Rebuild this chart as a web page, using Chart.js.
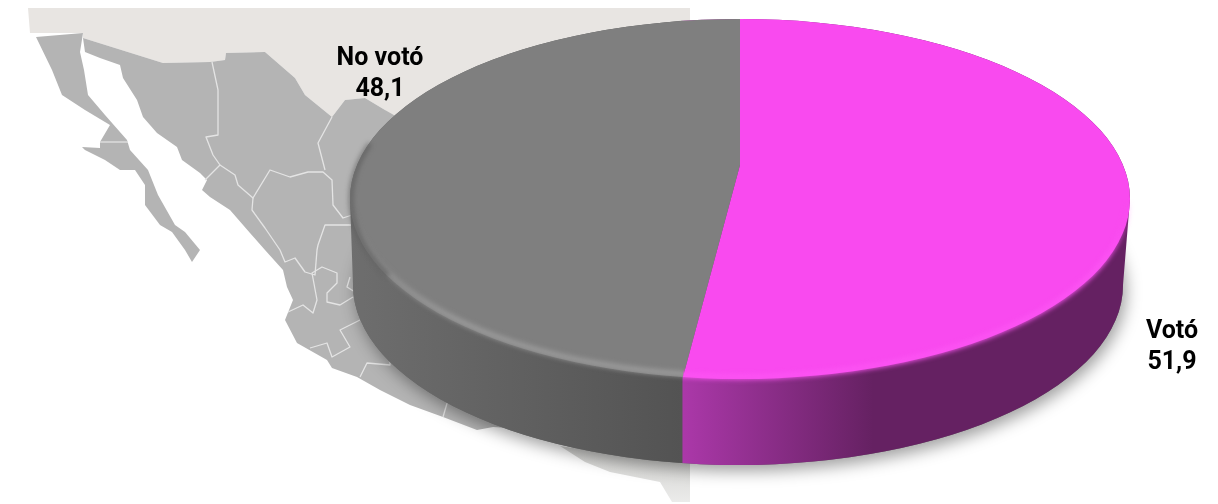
<!DOCTYPE html>
<html lang="es">
<head>
<meta charset="utf-8">
<title>Participación electoral</title>
<script src="https://cdn.jsdelivr.net/npm/chart.js@4"></script>
<style>
    html, body { margin: 0; background: #fff; }
    #wrap { position: relative; width: 1218px; height: 504px; overflow: hidden; }
    #map, #pie { position: absolute; left: 0; top: 0; }
</style>
</head>
<body>
<div id="wrap">
    <!-- backdrop map of Mexico, cut off at x=690 -->
    <svg id="map" width="1218" height="504" viewBox="0 0 1218 504">
        <defs>
            <linearGradient id="paleFade" x1="0" y1="0" x2="0" y2="1">
                <stop offset="0" stop-color="#cfcfcd"/>
                <stop offset="1" stop-color="#ebebea"/>
            </linearGradient>
        </defs>
        <polygon fill="#e8e5e2" points="28,8 690,8 690,130 400,130 385,110 365,98 345,100 332,117 305,95 295,78 265,52 226,53 225,60 210,62 163,63 83,38 83,33 30,33"/>
        <polygon fill="#b4b4b4" points="36,37 83,33 80,52 84,70 88,95 105,115 127,140 130,150 148,170 158,195 175,225 185,232 200,250 192,262 185,250 172,232 160,225 145,205 145,185 135,170 120,170 105,160 85,150 82,147 100,148 100,142 110,125 85,110 62,95 52,70"/>
        <polygon fill="#b4b4b4" points="83,38 163,63 210,62 225,60 226,53 265,52 295,78 305,95 332,117 345,100 365,98 385,110 420,130 690,300 690,440 493,427 477,430 443,417 410,405 380,390 357,377 332,368 327,360 297,343 285,320 293,300 287,287 283,270 265,250 250,233 230,210 210,197 202,190 207,180 200,173 182,160 177,147 157,133 143,117 137,100 123,78 120,65 100,58 85,52"/>
        <polygon fill="url(#paleFade)" points="560,446 600,452 690,452 690,502 672,502 660,482 610,472 585,462"/>
        <g fill="none" stroke="#e4e4e4" stroke-width="1.3" stroke-linejoin="round">
            <polyline points="100,142 128,142"/>
            <polyline points="212,62 218,90 218,135 206,137 213,155 220,165 205,180"/>
            <polyline points="220,165 235,175 238,185 253,198 270,170 290,177 308,172 323,172 332,180 333,205 343,218 352,215"/>
            <polyline points="253,198 252,210 265,228 280,250 285,262 295,258 305,272 315,275 317,250 318,245 325,225 352,225"/>
            <polyline points="332,117 318,143 325,170"/>
            <polyline points="288,312 303,305 313,313 317,300 312,273 322,267 337,273 337,283 327,293 327,302 340,305 353,297"/>
            <polyline points="350,277 347,287 355,292"/>
            <polyline points="310,348 327,343 332,357 350,347 340,330 360,320"/>
            <polyline points="360,377 367,363 390,365 390,357 400,367"/>
            <polyline points="443,417 448,400"/>
        </g>
    </svg>
    <canvas id="pie" width="1218" height="504"></canvas>
</div>

<script>
const categories = ["Votó", "No votó"];
const turnout = [51.9, 48.1];
const faceColors = ["#f94aef", "#7f7f7f"];

// label text sits beside the disc, one line for the name and one for the value
const labelSpots = [[1172, 332], [380, 59]];

// outline of the tilted disc
const disc = { x: 740, y: 199, rx: 390, ry: 180 };
const base = { x: 738, y: 285, rx: 385, ry: 180 };
// far side looks shorter, so the pie's centre sits above the middle of the outline
const apex = { x: 740, y: 165 };
const squash = 0.446;

function discPath(ctx) {
    ctx.beginPath();
    ctx.ellipse(disc.x, disc.y, disc.rx, disc.ry, 0, 0, Math.PI * 2);
}

function wallPath(ctx) {
    ctx.beginPath();
    ctx.ellipse(base.x, base.y, base.rx, base.ry, 0, 0, Math.PI);
    ctx.lineTo(disc.x - disc.rx, disc.y);
    ctx.ellipse(disc.x, disc.y, disc.rx, disc.ry, 0, Math.PI, Math.PI * 2);
    ctx.closePath();
}

// where the slice edge meets the front of the disc
function edgeX(angle) {
    let x = apex.x, y = apex.y;
    const dx = Math.cos(angle), dy = squash * Math.sin(angle);
    while (((x - disc.x) / disc.rx) ** 2 + ((y - disc.y) / disc.ry) ** 2 < 1) {
        x += dx;
        y += dy;
    }
    return x;
}

const discPlugin = {
    id: "disc",
    beforeDatasetsDraw(chart) {
        const ctx = chart.ctx;
        const arcs = chart.getDatasetMeta(0).data;
        const splitX = edgeX(arcs[0].endAngle);
        const left = disc.x - disc.rx, right = disc.x + disc.rx;
        const stop = x => (x - left) / (right - left);

        // drop shadow comes from the lower ellipse only, the top stays clean
        ctx.save();
        ctx.shadowColor = "rgba(0,0,0,0.38)";
        ctx.shadowBlur = 16;
        ctx.shadowOffsetX = 3;
        ctx.shadowOffsetY = 6;
        ctx.fillStyle = "#666";
        ctx.beginPath();
        ctx.ellipse(base.x, base.y, base.rx, base.ry, 0, 0, Math.PI * 2);
        ctx.fill();
        ctx.restore();

        // side wall, colour changes where the slices change
        const wall = ctx.createLinearGradient(left, 0, right, 0);
        wall.addColorStop(0, "#6e6e6e");
        wall.addColorStop(stop(splitX - 1), "#535353");
        wall.addColorStop(stop(splitX), "#ab38a9");
        wall.addColorStop(stop(splitX + 190), "#652162");
        wall.addColorStop(1, "#652162");
        ctx.fillStyle = wall;
        wallPath(ctx);
        ctx.fill();

        // the arcs come out of the library as a circle, flatten it here
        const c = arcs[0];
        ctx.save();
        discPath(ctx);
        ctx.clip();
        ctx.translate(apex.x, apex.y);
        ctx.scale(1, squash);
        ctx.translate(-c.x, -c.y);
    },
    afterDatasetsDraw(chart) {
        const ctx = chart.ctx;
        ctx.restore();

        const arcs = chart.getDatasetMeta(0).data;
        const splitX = edgeX(arcs[0].endAngle);

        // soft bevel along the front rim, fading in from the left side
        const rimGray = ctx.createLinearGradient(0, disc.y + 10, 0, disc.y + 120);
        rimGray.addColorStop(0, "rgba(160,160,160,0)");
        rimGray.addColorStop(1, "rgba(160,160,160,0.9)");
        const rimPink = ctx.createLinearGradient(0, disc.y, 0, disc.y + 60);
        rimPink.addColorStop(0, "rgba(249,74,239,0)");
        rimPink.addColorStop(1, "rgba(252,84,243,1)");

        ctx.save();
        ctx.filter = "blur(2.5px)";
        ctx.lineWidth = 5;

        ctx.save();
        ctx.beginPath();
        ctx.rect(0, disc.y, splitX, 504);
        ctx.clip();
        ctx.strokeStyle = rimGray;
        ctx.beginPath();
        ctx.ellipse(disc.x, disc.y, disc.rx - 3, disc.ry - 3, 0, 0, Math.PI * 2);
        ctx.stroke();
        ctx.restore();

        ctx.save();
        ctx.beginPath();
        ctx.rect(splitX, disc.y, 1218, 504);
        ctx.clip();
        ctx.strokeStyle = rimPink;
        ctx.beginPath();
        ctx.ellipse(disc.x, disc.y, disc.rx - 2, disc.ry - 2, 0, 0, Math.PI * 2);
        ctx.stroke();
        ctx.restore();

        // darker turn of the edge at the far left
        ctx.strokeStyle = "rgba(84,84,84,0.7)";
        ctx.lineWidth = 4;
        ctx.beginPath();
        ctx.ellipse(disc.x, disc.y, disc.rx - 1, disc.ry - 1, 0, Math.PI * 0.86, Math.PI * 1.1);
        ctx.stroke();
        ctx.restore();
    },
    afterDraw(chart) {
        const ctx = chart.ctx;
        ctx.save();
        ctx.font = "bold 25px Roboto";
        ctx.fillStyle = "#000";
        ctx.textAlign = "center";
        ctx.textBaseline = "middle";
        categories.forEach((name, i) => {
            const [x, y] = labelSpots[i];
            ctx.fillText(name, x, y);
            ctx.fillText(turnout[i].toFixed(1).replace(".", ","), x, y + 31);
        });
        ctx.restore();
    }
};

new Chart(document.getElementById("pie"), {
    type: "pie",
    data: {
        labels: categories,
        datasets: [{
            data: turnout,
            backgroundColor: faceColors,
            borderWidth: 0,
            radius: 640
        }]
    },
    options: {
        responsive: false,
        animation: false,
        events: [],
        layout: { padding: 0 },
        plugins: {
            legend: { display: false },
            tooltip: { enabled: false }
        }
    },
    plugins: [discPlugin]
});
</script>
</body>
</html>
